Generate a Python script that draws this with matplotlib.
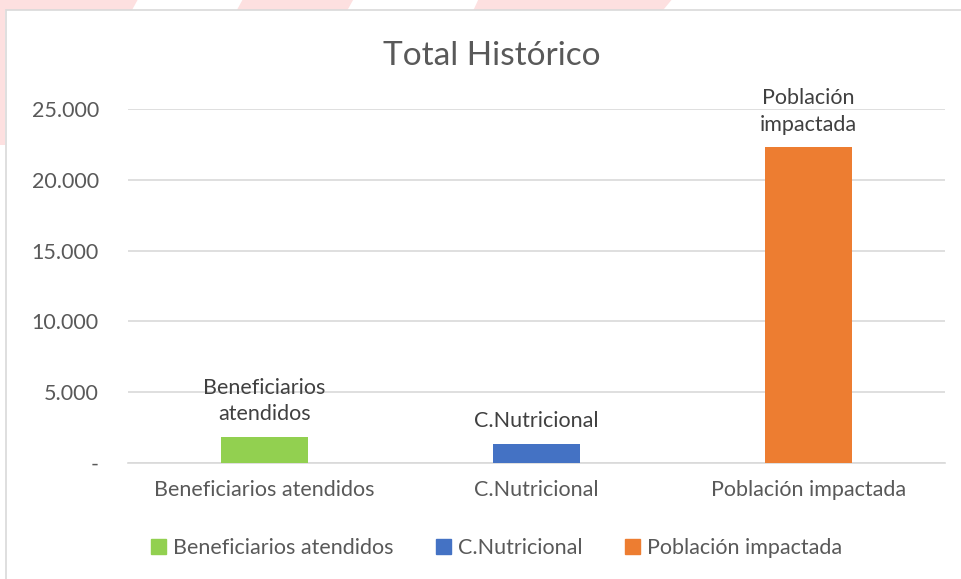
import matplotlib.pyplot as plt
from matplotlib.patches import Rectangle, Polygon
from matplotlib.ticker import FuncFormatter

categories = ["Beneficiarios atendidos", "C.Nutricional", "Población impactada"]
values = [1850, 1350, 22300]
bar_labels = ["Beneficiarios\natendidos", "C.Nutricional", "Población\nimpactada"]
colors = ["#92d050", "#4472c4", "#ed7d31"]
y_ticks = [0, 5000, 10000, 15000, 20000, 25000]

plt.rcParams["font.family"] = ["Lato", "DejaVu Sans"]
text_color = "#595959"
grid_color = "#d9d9d9"
fs = 15.5

fig = plt.figure(figsize=(9.62, 5.79), dpi=100)

# fondo de la diapositiva (franjas rosadas arriba)
for pts in [
    [(0, 1), (0.143, 1), (0.137, 0.982), (0, 0.982)],
    [(0.252, 1), (0.367, 1), (0.361, 0.982), (0.246, 0.982)],
    [(0.497, 1), (0.698, 1), (0.689, 0.982), (0.492, 0.982)],
    [(0, 0.982), (0.005, 0.982), (0.005, 0.75), (0, 0.75)],
]:
    fig.patches.append(Polygon(pts, closed=True, transform=fig.transFigure,
                               facecolor="#fde0e0", edgecolor="none", zorder=-3))

# borde del área del gráfico
fig.patches.append(Rectangle((0.006, -0.01), 1.0, 0.993, transform=fig.transFigure,
                             facecolor="white", edgecolor=grid_color, linewidth=1.2, zorder=-2))

ax = fig.add_axes([0.133, 0.2003, 0.849, 0.6114])
ax.set_facecolor("none")

x = range(len(categories))
bars = ax.bar(x, values, width=0.32, color=colors, zorder=3)

for xi, v, lab in zip(x, values, bar_labels):
    ax.text(xi, v + 900, lab, ha="center", va="bottom", fontsize=fs,
            color="#404040", linespacing=1.4, zorder=4)

ax.set_xlim(-0.5, 2.5)
ax.set_ylim(0, 25000)
ax.set_yticks(y_ticks)
ax.yaxis.set_major_formatter(FuncFormatter(
    lambda v, p: "-" if v == 0 else f"{int(v):,}".replace(",", ".")))
ax.set_xticks(list(x))
ax.set_xticklabels(categories)

ax.grid(axis="y", color=grid_color, linewidth=1.2, zorder=0)
for side in ["top", "right", "left"]:
    ax.spines[side].set_visible(False)
ax.spines["bottom"].set_color(grid_color)
ax.spines["bottom"].set_linewidth(1.2)
ax.tick_params(axis="both", length=0, labelsize=fs, labelcolor=text_color)
ax.tick_params(axis="y", pad=21)
ax.tick_params(axis="x", pad=12)

fig.text(0.511, 0.903, "Total Histórico", ha="center", va="center",
         fontsize=24, color=text_color)

handles = [Rectangle((0, 0), 1, 1, color=c) for c in colors]
fig.legend(handles, categories, loc="center", bbox_to_anchor=(0.516, 0.054),
           ncol=3, frameon=False, fontsize=fs, labelcolor=text_color,
           handlelength=0.7, handleheight=0.7, handletextpad=0.3,
           columnspacing=2.0)

fig.savefig("out.png", dpi=100)
